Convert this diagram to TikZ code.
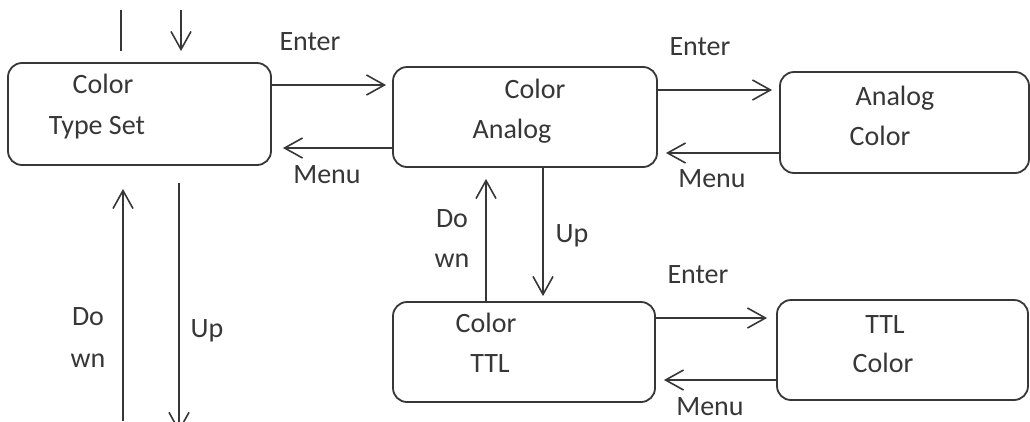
\documentclass[tikz,border=0pt]{standalone}
\usepackage{fontspec}
\setmainfont{Carlito}
\usetikzlibrary{arrows.meta}
\definecolor{ink}{RGB}{55,55,55}
\begin{document}
\begin{tikzpicture}[x=1pt,y=-1pt,
  font=\fontsize{28}{34}\selectfont,
  every node/.style={text=ink},
  box/.style={draw=ink, line width=1.8pt, rounded corners=14pt, rectangle, inner sep=0pt},
  lbl/.style={anchor=base, inner sep=0pt},
  conn/.style={draw=ink, line width=1.6pt},
  arr/.style={conn, -{Straight Barb[length=18pt,width=20pt,line width=1.6pt]}}]
\useasboundingbox (0,0) rectangle (1030,421);
\fill[white] (0,0) rectangle (1030,421);
% boxes
\node[box, minimum width=263pt, minimum height=102pt] (A) at (139.5,114) {};
\node[box, minimum width=264pt, minimum height=100pt] (B) at (525,117) {};
\node[box, minimum width=249pt, minimum height=101pt] (C) at (904.5,122.5) {};
\node[box, minimum width=262pt, minimum height=100pt] (D) at (524,352) {};
\node[box, minimum width=251pt, minimum height=100pt] (E) at (902.5,350) {};
% box texts
\node[lbl] (a1) at (103,93) {Color};
\node[lbl] (a2) at (97,134) {Type Set};
\node[lbl] (b1t) at (535,98) {Color};
\node[lbl] (b2t) at (512,138) {Analog};
\node[lbl] (c1t) at (895,105) {Analog};
\node[lbl] (c2t) at (880,145) {Color};
\node[lbl] (d1t) at (486,332) {Color};
\node[lbl] (d2t) at (490,372) {TTL};
\node[lbl] (e1t) at (885,333) {TTL};
\node[lbl] (e2t) at (883,372) {Color};
% connector labels
\node[lbl] (l1) at (310,50) {Enter};
\node[lbl] (l2) at (327,183) {Menu};
\node[lbl] (l3) at (700,55) {Enter};
\node[lbl] (l4) at (712,187) {Menu};
\node[lbl] (l5) at (698,283) {Enter};
\node[lbl] (l6) at (710,415) {Menu};
\node[lbl] (l7) at (452,227) {Do};
\node[lbl] (l8) at (452,267) {wn};
\node[lbl] (l9) at (572,242) {Up};
\node[lbl] (l10) at (88,325) {Do};
\node[lbl] (l11) at (88,367) {wn};
\node[lbl] (l12) at (207,337) {Up};
% helper coordinates
\coordinate (h1) at (0,85);
\coordinate (h2) at (0,148);
\coordinate (h3) at (0,90);
\coordinate (h4) at (0,153);
\coordinate (h5) at (0,318);
\coordinate (h6) at (0,380);
\coordinate (v1) at (486,0);
\coordinate (v2) at (543,0);
\coordinate (t1) at (121,10);
\coordinate (t2) at (181,10);
\coordinate (bl1) at (123,421);
\coordinate (bl2) at (179,432);
% horizontal connectors
\draw[arr, shorten >=6pt] (A.east |- h1) -- (B.west |- h1);
\draw[arr, shorten >=11pt] (B.west |- h2) -- (A.east |- h2);
\draw[arr, shorten >=7pt] (B.east |- h3) -- (C.west |- h3);
\draw[arr, shorten >=8pt] (C.west |- h4) -- (B.east |- h4);
\draw[arr, shorten >=9pt] (D.east |- h5) -- (E.west |- h5);
\draw[arr, shorten >=8pt] (E.west |- h6) -- (D.east |- h6);
% vertical connectors between B and D
\draw[arr, shorten >=11pt] (v1 |- D.north) -- (v1 |- B.south);
\draw[arr, shorten >=5pt] (v2 |- B.south) -- (v2 |- D.north);
% top free ends
\draw[conn, shorten >=11pt] (t1) -- (t1 |- A.north);
\draw[arr, shorten >=11pt] (t2) -- (t2 |- A.north);
% bottom free ends
\draw[arr, shorten >=23pt] (bl1) -- (bl1 |- A.south);
\draw[arr, shorten <=17pt] (bl2 |- A.south) -- (bl2);
\end{tikzpicture}
\end{document}
